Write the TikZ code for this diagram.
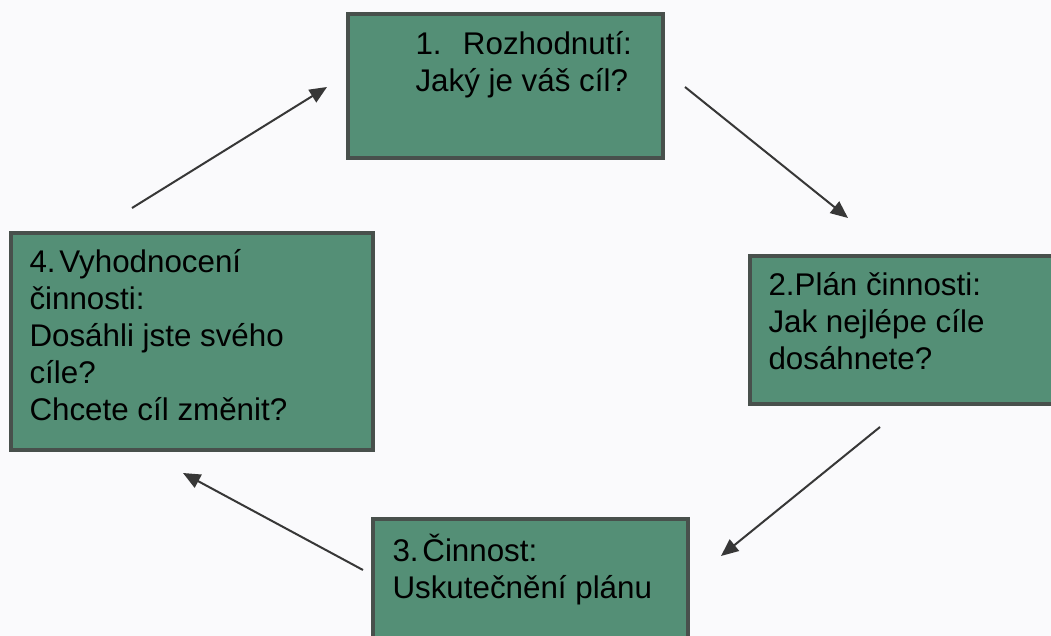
\documentclass[tikz,border=0pt]{standalone}
\usepackage{fontspec}
\setmainfont{Liberation Sans}
\usetikzlibrary{fit,arrows.meta}
\definecolor{zelena}{RGB}{84,143,118}
\definecolor{ramec}{RGB}{72,80,76}
\definecolor{sipka}{RGB}{55,55,55}
\definecolor{papir}{RGB}{250,250,252}
\tikzset{
  krok/.style={draw=ramec,line width=2.6pt,fill=zelena,inner sep=0pt},
  popis/.style={anchor=base west,align=left,inner sep=0pt,font=\fontsize{23.5}{27.75}\selectfont},
  tah/.style={draw=sipka,line width=1.5pt,-{Triangle[length=13pt,width=11pt]}}
}
\begin{document}
\begin{tikzpicture}[x=0.75pt,y=-0.75pt]
  \useasboundingbox (0,0) rectangle (1051,636);
  \fill[papir] (0,0) rectangle (1051,636); %pozadi
  \clip (0,0) rectangle (1051,636);
  \node[krok,fit={(348,14)(663,158)}] (rozhodnuti) {}; %krok 1
  \node[krok,fit={(750,256)(1075,404)}] (plan) {}; %krok 2
  \node[krok,fit={(373,519)(688,660)}] (cinnost) {}; %krok 3
  \node[krok,fit={(11,233)(373,450)}] (vyhodnoceni) {}; %krok 4
  \node[popis] (t1) at ([shift={(69,79)}]rozhodnuti.north west) {1.\hspace{16pt}Rozhodnutí:\\Jaký je váš cíl?};
  \node[popis] (t2) at ([shift={(20,115)}]plan.north west) {2.Plán činnosti:\\Jak nejlépe cíle\\dosáhnete?};
  \node[popis] (t3) at ([shift={(21,81)}]cinnost.north west) {3.\hspace{0.12em}Činnost:\\Uskutečnění plánu};
  \node[popis] (t4) at ([shift={(20,189)}]vyhodnoceni.north west) {4.\hspace{0.12em}Vyhodnocení\\činnosti:\\Dosáhli jste svého\\cíle?\\Chcete cíl změnit?};
  \coordinate (a1) at (132,208); \coordinate (b1) at (327,87); %4 -> 1
  \coordinate (a2) at (685,87); \coordinate (b2) at (848,218); %1 -> 2
  \coordinate (a3) at (880,427); \coordinate (b3) at (721,556); %2 -> 3
  \coordinate (a4) at (363,570); \coordinate (b4) at (183,473); %3 -> 4
  \draw[tah] (a1) -- (b1);
  \draw[tah] (a2) -- (b2);
  \draw[tah] (a3) -- (b3);
  \draw[tah] (a4) -- (b4);
\end{tikzpicture}
\end{document}
